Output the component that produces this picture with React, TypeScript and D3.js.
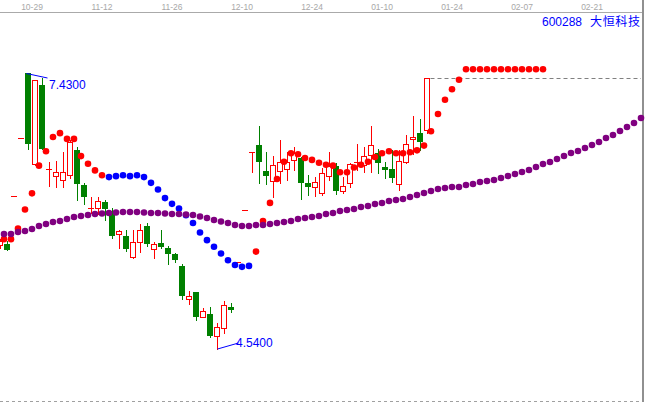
import React from 'react';
import * as d3 from 'd3';

const WIDTH = 645;
const HEIGHT = 402;

const stockCode = '600288';
const stockName = '大恒科技';

const dateLabels = ['10-29', '11-12', '11-26', '12-10', '12-24', '01-10', '01-24', '02-07', '02-21'];
const dateSlots = [4, 14, 24, 34, 44, 54, 64, 74, 84];

// candles start one slot left of the first indicator dot
const firstCandleSlot = -1;
const opens = [5.63, 5.64, 6.14, 6.75, 7.43, 6.48, 7.30, 6.41, 6.35, 6.31, 6.36, 6.62, 6.26, 6.01, 6.02, 6.08,
  5.99, 5.74, 5.72, 5.50, 5.66, 5.83, 5.59, 5.65, 5.60, 5.53, 5.41, 5.06, 5.14, 4.88, 4.91, 4.68, 4.76, 4.98,
  5.45, 6.00, 6.60, 6.68, 6.40, 6.30, 6.40, 6.42, 6.52, 6.54, 6.28, 6.24, 6.17, 6.35, 6.46, 6.19, 6.28, 6.49,
  6.47, 6.57, 6.59, 6.45, 6.42, 6.27, 6.50, 6.74, 6.80, 6.83];
const highs = [5.69, 5.67, 6.14, 6.75, 7.43, 7.36, 7.38, 6.50, 6.51, 6.60, 6.73, 6.65, 6.28, 6.13, 6.13, 6.10,
  6.02, 5.79, 5.79, 5.79, 5.85, 5.86, 5.66, 5.79, 5.62, 5.55, 5.43, 5.15, 5.14, 4.97, 4.98, 4.81, 5.04, 5.02,
  5.45, 6.00, 6.60, 6.87, 6.60, 6.56, 6.73, 6.60, 6.66, 6.55, 6.36, 6.34, 6.44, 6.60, 6.49, 6.34, 6.49, 6.69,
  6.66, 6.88, 6.63, 6.50, 6.62, 6.62, 6.78, 6.98, 6.95, 7.38];
const lows = [5.60, 5.58, 6.14, 6.75, 6.63, 6.47, 6.63, 6.25, 6.24, 6.24, 6.33, 6.10, 6.06, 5.96, 5.95, 5.89,
  5.70, 5.60, 5.57, 5.49, 5.56, 5.62, 5.49, 5.60, 5.43, 5.45, 5.06, 5.01, 4.84, 4.87, 4.67, 4.54, 4.71, 4.93,
  5.45, 6.00, 6.39, 6.28, 6.27, 6.13, 6.28, 6.31, 6.41, 6.11, 6.15, 6.14, 6.15, 6.31, 6.16, 6.17, 6.24, 6.41,
  6.39, 6.39, 6.38, 6.33, 6.29, 6.21, 6.49, 6.58, 6.62, 6.80];
const closes = [5.67, 5.58, 6.14, 6.75, 6.69, 7.36, 6.63, 6.42, 6.39, 6.39, 6.71, 6.27, 6.13, 6.02, 6.09, 6.01,
  5.72, 5.78, 5.59, 5.66, 5.79, 5.64, 5.64, 5.61, 5.53, 5.47, 5.10, 5.10, 4.88, 4.94, 4.68, 4.77, 5.00, 4.95,
  5.45, 6.00, 6.60, 6.50, 6.35, 6.47, 6.50, 6.50, 6.59, 6.28, 6.24, 6.29, 6.38, 6.46, 6.19, 6.25, 6.48, 6.50,
  6.56, 6.68, 6.49, 6.41, 6.33, 6.51, 6.69, 6.76, 6.71, 7.38];

const sarValues = [5.69, 5.69, 5.80, 6.00, 6.17, 6.46, 6.61, 6.76, 6.80, 6.74, 6.74, 6.56, 6.48, 6.41, 6.36,
  6.34, 6.35, 6.36, 6.35, 6.36, 6.34, 6.28, 6.21, 6.12, 6.06, 6.01, 5.94, 5.86, 5.76, 5.68, 5.61, 5.54, 5.47, 5.42, 5.40, 5.41,
  5.56, 5.88, 6.07, 6.32, 6.50, 6.59, 6.58, 6.54, 6.52, 6.49, 6.47, 6.46, 6.39, 6.39, 6.44, 6.47, 6.50, 6.55, 6.59, 6.61,
  6.59, 6.59, 6.60, 6.62, 6.67, 6.82, 7.00, 7.15, 7.26, 7.36,
  7.47, 7.47, 7.47, 7.47, 7.47, 7.47, 7.47, 7.47, 7.47, 7.47, 7.47, 7.47];
const sarTrend = [
  'up', 'up', 'up', 'up', 'up', 'up', 'up', 'up', 'up', 'up', 'up', 'up', 'up', 'up', 'up',
  'down', 'down', 'down', 'down', 'down', 'down', 'down', 'down', 'down', 'down', 'down', 'down', 'down', 'down',
  'down', 'down', 'down', 'down', 'down', 'down', 'down',
  'up', 'up', 'up', 'up', 'up', 'up', 'up', 'up', 'up', 'up', 'up', 'up', 'up', 'up', 'up', 'up', 'up', 'up', 'up',
  'up', 'up', 'up', 'up', 'up', 'up', 'up', 'up', 'up', 'up', 'up', 'up', 'up', 'up', 'up', 'up', 'up', 'up', 'up',
  'up', 'up', 'up', 'up'];

const maValues = [5.744, 5.744, 5.765, 5.776, 5.797, 5.828, 5.849, 5.870, 5.880, 5.901, 5.922, 5.933, 5.943, 5.954,
  5.959, 5.964, 5.969, 5.974, 5.974, 5.974, 5.969, 5.964, 5.964, 5.959, 5.954, 5.954, 5.948, 5.943, 5.927, 5.912,
  5.891, 5.875, 5.859, 5.838, 5.828, 5.828, 5.838, 5.838, 5.849, 5.859, 5.870, 5.880, 5.901, 5.912, 5.922, 5.933,
  5.954, 5.964, 5.985, 5.995, 6.006, 6.027, 6.037, 6.058, 6.069, 6.090, 6.100, 6.111, 6.132, 6.153, 6.173, 6.194,
  6.215, 6.226, 6.236, 6.236, 6.257, 6.268, 6.289, 6.299, 6.310, 6.331, 6.351, 6.372, 6.393, 6.414, 6.446, 6.477,
  6.498, 6.530, 6.561, 6.592, 6.613, 6.645, 6.676, 6.707, 6.749, 6.781, 6.823, 6.865, 6.907, 6.959];

const RED = '#FF0000';
const GREEN = '#008000';
const BLUE = '#0000FF';
const PURPLE = '#800080';

export default function App() {
  const x = d3.scaleLinear().domain([0, 1]).range([4, 11]);
  const y = d3.scaleLinear()
    .domain([d3.min(lows) as number, d3.max(highs) as number])
    .range([349, 73]);

  const candleX = (i: number) => Math.floor(x(firstCandleSlot + i + 0.5)) + 0.5;

  const candles = opens.map((o, i) => {
    const c = closes[i];
    const cx = candleX(i);
    const yo = Math.round(y(o));
    const yc = Math.round(y(c));
    const yh = Math.round(y(highs[i]));
    const yl = Math.round(y(lows[i]));
    if (c >= o) {
      const top = yc;
      const bot = yo;
      if (bot - top < 2) {
        return (
          <g key={i} stroke={RED} strokeWidth={1}>
            {yl > yh && <line x1={cx} x2={cx} y1={yh} y2={yl + 1} />}
            <line x1={cx - 3.5} x2={cx + 2.5} y1={top + 0.5} y2={top + 0.5} />
          </g>
        );
      }
      return (
        <g key={i} stroke={RED} strokeWidth={1}>
          {top > yh && <line x1={cx} x2={cx} y1={yh} y2={top} />}
          {yl > bot && <line x1={cx} x2={cx} y1={bot + 1} y2={yl + 1} />}
          <rect x={cx - 3} y={top + 0.5} width={5} height={bot - top} fill="#FFFFFF" />
        </g>
      );
    }
    return (
      <g key={i}>
        <line x1={cx} x2={cx} y1={yh} y2={yl + 1} stroke={GREEN} strokeWidth={1} />
        <rect x={cx - 3.5} y={yo} width={6} height={Math.max(1, yc - yo)} fill={GREEN} />
      </g>
    );
  });

  const hiIdx = d3.maxIndex(highs);
  const loIdx = d3.minIndex(lows);
  const hiX = candleX(hiIdx);
  const hiY = y(highs[hiIdx]);
  const loX = candleX(loIdx);
  const loY = y(lows[loIdx]);

  const lastIdx = closes.length - 1;
  const lastY = Math.round(y(closes[lastIdx])) + 0.5;
  const lastX = candleX(lastIdx) + 3;

  return (
    <svg
      width={WIDTH}
      height={HEIGHT}
      style={{ position: 'fixed', left: 0, top: 0, background: '#FFFFFF', display: 'block' }}
      fontFamily="'Liberation Sans', Arial, sans-serif"
    >
      <rect x={0} y={0} width={WIDTH} height={HEIGHT} fill="#FFFFFF" />
      {/* top date axis */}
      <line x1={0} x2={642} y1={12.5} y2={12.5} stroke="#AAAAAA" strokeWidth={1} />
      {dateLabels.map((d, i) => (
        <text key={d} x={x(dateSlots[i])} y={9.5} textAnchor="middle" fontSize={8.5} fill="#A8A8A8">
          {d}
        </text>
      ))}
      {/* bottom dashed line */}
      <line x1={0} x2={642} y1={401.5} y2={401.5} stroke="#A0A0A0" strokeWidth={1} strokeDasharray="3,3" />
      {/* right border */}
      <line x1={643} x2={643} y1={0} y2={HEIGHT} stroke="#909090" strokeWidth={2} />

      {/* last close line */}
      <line x1={lastX} x2={641} y1={lastY} y2={lastY} stroke="#808080" strokeWidth={1} strokeDasharray="4,3" />

      {candles}

      {sarValues.map((v, k) => (
        <circle key={'s' + k} cx={x(k)} cy={y(v)} r={3.3} fill={sarTrend[k] === 'up' ? RED : BLUE} />
      ))}
      {maValues.map((v, k) => (
        <circle key={'m' + k} cx={x(k)} cy={y(v)} r={3.3} fill={PURPLE} />
      ))}

      {/* high / low annotations */}
      <line x1={hiX - 2} y1={hiY + 0.5} x2={hiX + 19} y2={hiY + 5} stroke={BLUE} strokeWidth={1} />
      <text x={hiX + 20.5} y={hiY + 16} fontSize={12} fill={BLUE}>
        {highs[hiIdx].toFixed(4)}
      </text>
      <line x1={loX} y1={loY} x2={loX + 21} y2={loY - 6} stroke={BLUE} strokeWidth={1} />
      <text x={loX + 18.5} y={loY - 2} fontSize={12} fill={BLUE}>
        {lows[loIdx].toFixed(4)}
      </text>

      {/* title */}
      <text x={542} y={25.5} fontSize={12} fill={BLUE}>{stockCode}</text>
      <text x={590} y={25.5} fontSize={12} textLength={50} lengthAdjust="spacing" fill={BLUE} fontFamily="'Noto Sans CJK SC', sans-serif">{stockName}</text>
    </svg>
  );
}
